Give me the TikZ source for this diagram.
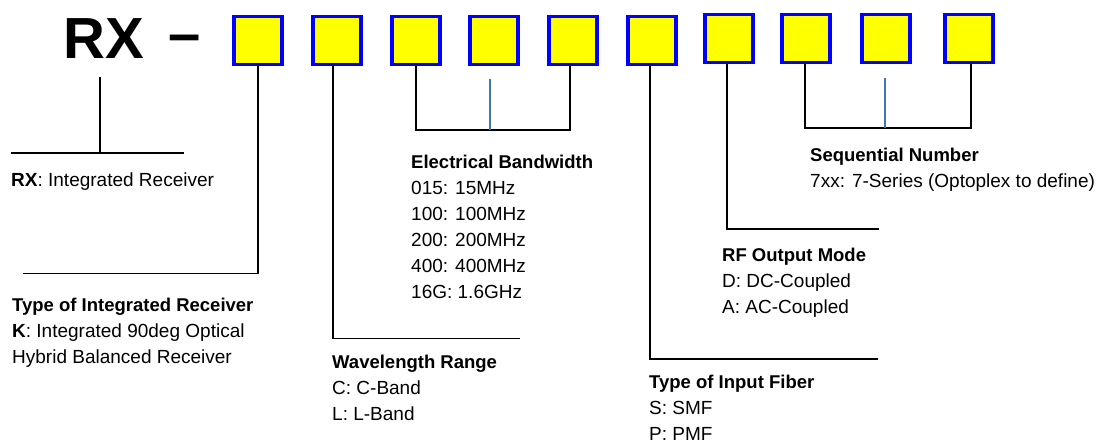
\documentclass[tikz,border=0pt]{standalone}
\usepackage{fontspec}
\setmainfont{Liberation Sans}
\definecolor{boxblue}{RGB}{0,0,255}
\definecolor{boxyellow}{RGB}{255,255,0}
\definecolor{midblue}{RGB}{61,118,186}
\newcommand\hdtext[1]{{\fontsize{18.5}{26}\selectfont\bfseries #1}}
\begin{document}
\begin{tikzpicture}[x=1pt,y=-1pt,
  cbox/.style={draw=boxblue, fill=boxyellow, line width=3.5pt, minimum size=48pt, inner sep=0pt},
  conn/.style={draw=black, line width=1.6pt},
  midline/.style={draw=midblue, line width=1.6pt},
  txt/.style={anchor=north west, inner sep=0pt, align=left, font=\fontsize{19}{26}\selectfont},
  bigtxt/.style={anchor=base west, inner sep=0pt, font=\fontsize{58}{58}\selectfont\bfseries}]
\useasboundingbox (0,0) rectangle (1101,445);

% title
\node[bigtxt] (rx) at (63,58) {RX};
\node[bigtxt, anchor=base] (dash) at (184.5,53) {–};

% boxes
\node[cbox] (b1) at (258,40.5) {};
\node[cbox] (b2) at (337,40.5) {};
\node[cbox] (b3) at (416,40.5) {};
\node[cbox] (b4) at (494,40.5) {};
\node[cbox] (b5) at (573,40.5) {};
\node[cbox] (b6) at (652,40.5) {};
\node[cbox] (b7) at (729,38.5) {};
\node[cbox] (b8) at (806,38.5) {};
\node[cbox] (b9) at (886,38.5) {};
\node[cbox] (b10) at (969,38.5) {};

% corner / end coordinates
\coordinate (rxtop) at (100,77);
\coordinate (rxmid) at (100,153);
\coordinate (rxl) at (11,153);
\coordinate (rxr) at (184,153);
\coordinate (c1) at (23,273.5);
\coordinate (c2) at (520,338.5);
\coordinate (ebm) at (490,130);
\coordinate (ebtop) at (490,79);
\coordinate (c6) at (878,359);
\coordinate (c7) at (879,229);
\coordinate (snm) at (885,128);
\coordinate (sntop) at (885,78);

% connectors
\draw[conn] (rxl) -- (rxr);
\draw[conn] (rxtop) -- (rxmid);
\draw[conn] (b1.south) |- (c1);
\draw[conn] ([xshift=-4pt]b2.south) |- (c2);
\draw[conn] (b3.south) |- (ebm) -| ([xshift=-3pt]b5.south);
\draw[midline] (ebtop) -- (ebm);
\draw[conn] ([xshift=-2pt]b6.south) |- (c6);
\draw[conn] ([xshift=-2pt]b7.south) |- (c7);
\draw[conn] ([xshift=-1pt]b8.south) |- (snm) -| ([xshift=2pt]b10.south);
\draw[midline] (sntop) -- (snm);

% descriptions
\node[txt] (rxd) at (11,173) {\textbf{RX}: Integrated Receiver};
\node[txt] (t1) at (12,298) {\hdtext{Type of Integrated Receiver}\\\textbf{K}: Integrated 90deg Optical\\Hybrid Balanced Receiver};
\node[txt] (eb) at (411,155) {\hdtext{Electrical Bandwidth}\\015: 15MHz\\100: 100MHz\\200: 200MHz\\400: 400MHz\\16G: 1.6GHz};
\node[txt] (wr) at (332,355) {\hdtext{Wavelength Range}\\C: C-Band\\L: L-Band};
\node[txt] (tf) at (649,375) {\hdtext{Type of Input Fiber}\\S: SMF\\P: PMF};
\node[txt] (rf) at (722,248) {\hdtext{RF Output Mode}\\D: DC-Coupled\\A: AC-Coupled};
\node[txt] (sn) at (810,148) {\hdtext{Sequential Number}\\7xx: 7-Series (Optoplex to define)};
\end{tikzpicture}
\end{document}
